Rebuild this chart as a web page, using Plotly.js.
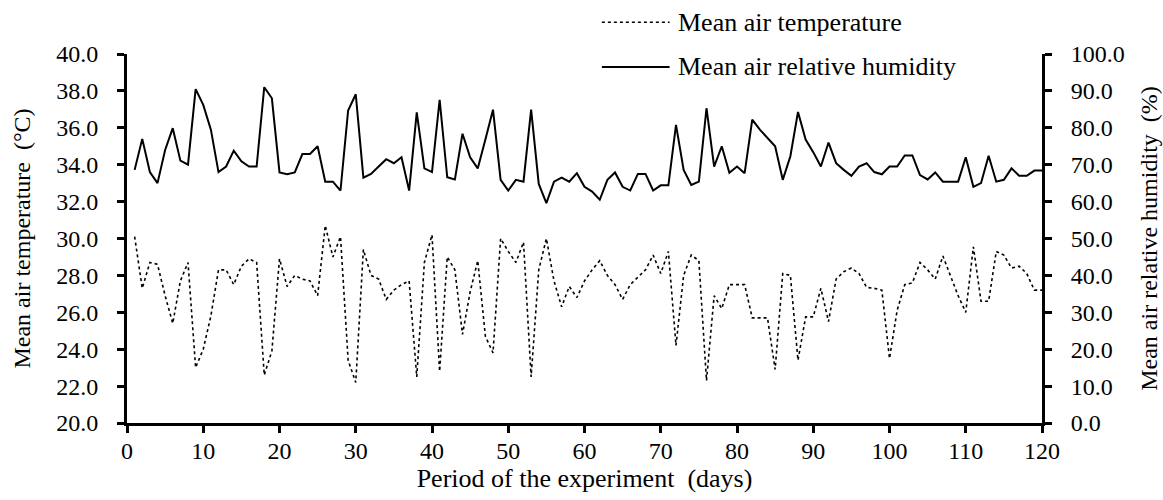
<!DOCTYPE html>
<html>
<head>
<meta charset="utf-8">
<script src="https://cdn.plot.ly/plotly-3.0.1.min.js"></script>
<style>html,body{margin:0;padding:0;background:#fff;}#chart{width:1163px;height:500px;}</style>
</head>
<body>
<div id="chart"></div>
<script>
var days = [];
for (var i = 1; i <= 120; i++) days.push(i);

var temperature = [
30.1,27.3,28.7,28.6,26.9,25.4,27.7,28.7,23.0,24.0,
25.8,28.3,28.3,27.5,28.5,28.9,28.7,22.6,23.9,28.9,
27.4,28.0,27.8,27.7,26.9,30.7,29.0,30.1,23.4,22.2,
29.4,28.0,27.8,26.7,27.2,27.5,27.7,22.5,28.7,30.2,
22.8,29.0,28.3,24.8,27.1,28.8,24.7,23.8,30.0,29.3,
28.7,29.8,22.5,28.3,30.0,27.7,26.3,27.4,26.8,27.7,
28.3,28.8,28.0,27.5,26.7,27.5,27.9,28.3,29.1,28.1,
29.3,24.2,28.0,29.1,28.8,22.3,26.9,26.2,27.5,27.5,
27.5,25.7,25.7,25.7,22.9,28.1,28.0,23.4,25.75,25.75,
27.3,25.5,27.8,28.2,28.4,28.1,27.35,27.3,27.2,23.5,
26.1,27.5,27.6,28.7,28.3,27.8,29.05,28.0,26.9,26.0,
29.55,26.6,26.6,29.3,29.1,28.4,28.5,28.1,27.2,27.2
];

var humidity = [
68.6,77.0,68.0,65.0,74.0,79.9,71.1,70.0,90.5,86.2,
79.5,68.0,69.5,73.8,70.9,69.5,69.5,91.0,88.0,67.9,
67.4,67.9,72.9,72.9,75.0,65.4,65.4,63.0,84.7,89.1,
66.5,67.5,69.5,71.5,70.4,72.0,63.0,84.2,69.0,68.0,
87.6,66.6,66.0,78.4,72.0,69.0,76.8,84.9,65.9,63.0,
65.9,65.4,84.9,64.8,59.6,65.4,66.5,65.4,67.7,64.0,
62.7,60.5,65.9,67.9,64.0,63.0,67.5,67.5,63.0,64.4,
64.4,80.8,68.6,64.5,65.4,85.3,69.5,75.0,67.8,69.5,
67.7,82.2,79.5,77.2,75.0,65.9,72.3,84.3,76.8,73.4,
69.5,76.0,70.4,68.6,67.0,69.5,70.4,68.0,67.4,69.5,
69.5,72.5,72.5,67.2,66.0,67.9,65.4,65.4,65.4,72.0,
64.0,65.0,72.4,65.4,65.9,69.0,67.0,67.0,68.4,68.4
];

var seriesNames = ["Mean air temperature", "Mean air relative humidity"];
var xTitle = "Period of the experiment  (days)";
var yTitle = "Mean air temperature  (°C)";
var y2Title = "Mean air relative humidity  (%)";

var FONT = "Liberation Serif, Times New Roman, serif";
var TF = {family: FONT, size: 24, color: "#000"};

var traces = [
  {x: days, y: temperature, name: seriesNames[0], type: "scatter", mode: "lines",
   line: {color: "#000", width: 1.6, dash: "dot"}, yaxis: "y", showlegend: false},
  {x: days, y: humidity, name: seriesNames[1], type: "scatter", mode: "lines",
   line: {color: "#000", width: 2}, yaxis: "y2", showlegend: false}
];

var axisCommon = {
  showgrid: false, zeroline: false, showline: true, linecolor: "#000", linewidth: 3,
  ticks: "outside", ticklen: 7, tickwidth: 3, tickcolor: "#000",
  tickfont: TF, automargin: false
};

var layout = {
  width: 1163, height: 500,
  margin: {l: 127, r: 121, t: 54, b: 77},
  paper_bgcolor: "#fff", plot_bgcolor: "#fff",
  font: TF,
  showlegend: false,
  xaxis: Object.assign({}, axisCommon, {
    range: [0, 120], dtick: 10, tick0: 0, ticklabelstandoff: -3,
    title: {text: xTitle, font: {family: FONT, size: 26, color: "#000"}, standoff: 3}
  }),
  yaxis: Object.assign({}, axisCommon, {
    range: [20, 40], dtick: 2, tick0: 20, tickformat: ".1f", ticklabelstandoff: 14,
    title: {text: yTitle, font: TF, standoff: 19}
  }),
  yaxis2: Object.assign({}, axisCommon, {
    range: [0, 100], dtick: 10, tick0: 0, tickformat: ".1f", ticklabelstandoff: 14,
    overlaying: "y", side: "right",
    title: {text: y2Title, font: TF, standoff: 17}
  }),
  shapes: [
    {type: "line", xref: "paper", yref: "paper", x0: 0.519, x1: 0.593, y0: 1.086, y1: 1.086,
     line: {color: "#000", width: 1.6, dash: "dot"}},
    {type: "line", xref: "paper", yref: "paper", x0: 0.519, x1: 0.593, y0: 0.965, y1: 0.965,
     line: {color: "#000", width: 2}}
  ],
  annotations: [
    {xref: "paper", yref: "paper", x: 0.600, y: 1.086, xanchor: "left", yanchor: "middle",
     text: seriesNames[0], showarrow: false, font: {family: FONT, size: 26, color: "#000"}},
    {xref: "paper", yref: "paper", x: 0.600, y: 0.965, xanchor: "left", yanchor: "middle",
     text: seriesNames[1], showarrow: false, font: {family: FONT, size: 26, color: "#000"}}
  ]
};

Plotly.newPlot("chart", traces, layout, {displayModeBar: false, staticPlot: true});
</script>
</body>
</html>
